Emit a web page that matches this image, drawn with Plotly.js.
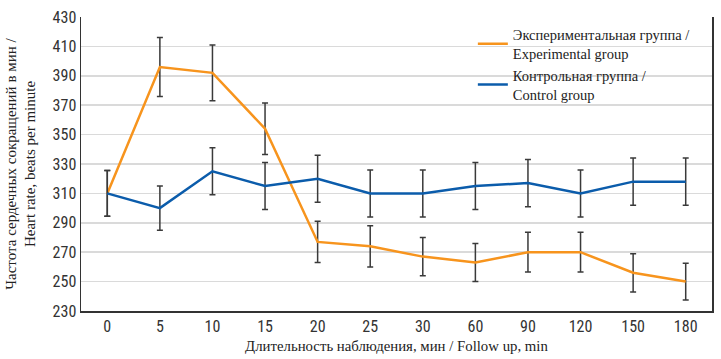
<!DOCTYPE html>
<html>
<head>
<meta charset="utf-8">
<script src="https://cdn.plot.ly/plotly-3.0.1.min.js"></script>
<style>body{margin:0;padding:0;background:#fff}#chart{width:721px;height:359px}</style>
</head>
<body>
<div id="chart"></div>
<script>
const categories = ["0","5","10","15","20","25","30","60","90","120","150","180"];
const expValues = [310,396,392,354,277,274,267,263,270,270,256,250];
const expErr =    [15.5,20,19,17.5,14,14,13,13,13.5,13.5,13,12.5];
const ctrlValues = [310,300,325,315,320,310,310,315,317,310,318,318];
const ctrlErr =    [15.5,15,16,16,16,16,16,16,16,16,16,16];
const expName = "Экспериментальная группа /<br>Experimental group";
const ctrlName = "Контрольная группа /<br>Control group";
const yTicks = [230,250,270,290,310,330,350,370,390,410,430];
const yTitle = "Частота сердечных сокращений в мин /<br>Heart rate, beats per minute";
const xTitle = "Длительность наблюдения, мин / Follow up, min";

const errStyle = {type:'data', visible:true, color:'#3a3a3a', thickness:1.5, width:3};

const traces = [
  {x:categories, y:expValues, name:expName, type:'scatter', mode:'lines',
   line:{color:'#F7941D', width:2.5},
   error_y:Object.assign({array:expErr}, errStyle)},
  {x:categories, y:ctrlValues, name:ctrlName, type:'scatter', mode:'lines',
   line:{color:'#0B5CAB', width:2.5},
   error_y:Object.assign({array:ctrlErr}, errStyle)}
];

const layout = {
  width:721, height:359,
  margin:{l:81, r:9, t:17, b:48},
  paper_bgcolor:'#fff', plot_bgcolor:'#fff',
  showlegend:true,
  legend:{x:0.621, y:0.995, xanchor:'left', yanchor:'top', bgcolor:'rgba(0,0,0,0)',
    font:{family:'Liberation Serif, serif', size:14.5, color:'#222'}, tracegroupgap:0},
  xaxis:{type:'category', range:[-0.5,11.5], showgrid:false, zeroline:false,
    showline:true, linecolor:'#333', linewidth:1.5, ticks:'',
    tickfont:{family:'Liberation Sans Narrow, Roboto Condensed, Roboto, sans-serif', size:16, color:'#333'},
    title:{text:xTitle,
      font:{family:'Liberation Serif, serif', size:14.8, color:'#222'}, standoff:6}},
  yaxis:{range:[230,430], tickvals:yTicks, showgrid:true, gridcolor:'#dadada', gridwidth:1.5,
    zeroline:false, showline:true, mirror:true, linecolor:'#333', linewidth:1.5, ticks:'',
    tickfont:{family:'Liberation Sans Narrow, Roboto Condensed, Roboto, sans-serif', size:16, color:'#333'}},
  annotations:[{text:yTitle, xref:'paper', yref:'paper', x:-0.0955, y:0.5,
    xanchor:'center', yanchor:'middle', textangle:-90, showarrow:false,
    font:{family:'Liberation Serif, serif', size:15, color:'#222'}}]
};

Plotly.newPlot('chart', traces, layout, {displayModeBar:false, staticPlot:true});
</script>
</body>
</html>
